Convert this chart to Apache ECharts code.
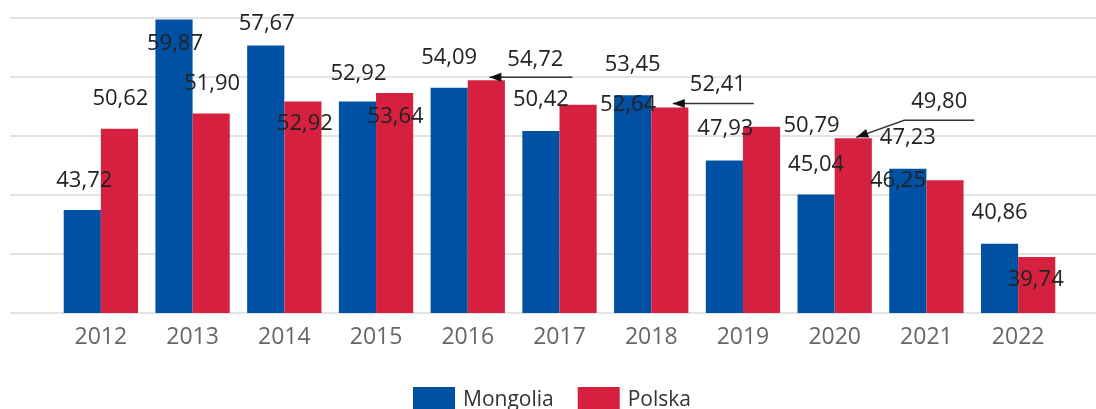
<!DOCTYPE html>
<html>
<head>
<meta charset="utf-8">
<script src="https://cdn.jsdelivr.net/npm/echarts@6/dist/echarts.min.js"></script>
<style>
  html, body { margin: 0; padding: 0; background: #fff; }
  #main { width: 1096px; height: 409px; }
</style>
</head>
<body>
<div id="main"></div>
<script>
const years = ['2012', '2013', '2014', '2015', '2016', '2017', '2018', '2019', '2020', '2021', '2022']
const mongolia = [43.72, 59.87, 57.67, 52.92, 54.09, 50.42, 53.45, 47.93, 45.04, 47.23, 40.86]
const polska = [50.62, 51.90, 52.92, 53.64, 54.72, 52.64, 52.41, 50.79, 49.80, 46.25, 39.74]

// przesunięcia etykiet [dx, dy] - jak w oryginale (etykiety nachodzą na siebie)
const mongoliaLabelOffset = [[2, -18], [1, 35], [1, -11], [1, -17], [0, -19], [0, -20], [0, -20], [1, -21], [0, -19], [0, -20], [0, -20]]
const polskaLabelOffset = [[1, -19], [1, -19], [2, 33], [1, 35], [49, -10], [50, 11], [48, -12], [50, 10], [86, -26], [-47, 11], [-1, 34]]

// linie odniesienia dla przesuniętych etykiet (Polska), px względem środka słupka i jego wierzchołka
const leaders = [
  { i: 4, tip: [3, -3], knee: [3, -3], end: [86, -3] },
  { i: 6, tip: [3, -4], knee: [3, -4], end: [84, -4] },
  { i: 8, tip: [3, -1], knee: [51, -18], end: [121, -18] },
]

const catGap = 0.19
const fmt = v => v.toFixed(2).replace('.', ',')

let chart = echarts.init(document.getElementById('main'))
chart.setOption({
  backgroundColor: '#fff',
  animation: false,
  textStyle: { fontFamily: 'Open Sans' },
  grid: [
    // siatka na całą szerokość
    { left: 10, right: 0, top: 18, bottom: 96, outerBoundsMode: 'none' },
    // słupki
    { left: 55, right: 32, top: 18, bottom: 96, outerBoundsMode: 'none' },
  ],
  legend: {
    data: ['Mongolia', 'Polska'],
    left: 413,
    top: 387,
    padding: 0,
    icon: 'rect',
    itemWidth: 42,
    itemHeight: 26,
    itemGap: 24,
    textStyle: { fontSize: 21, color: '#333', fontFamily: 'Open Sans', padding: [0, 0, 0, 3] },
  },
  xAxis: [
    { type: 'value', gridIndex: 0, show: false, min: 0, max: 1 },
    {
      type: 'category',
      gridIndex: 1,
      data: years,
      axisLine: { show: false },
      axisTick: { show: false },
      axisLabel: { fontSize: 23, color: '#666', margin: 13, fontFamily: 'Open Sans' },
    },
  ],
  yAxis: [
    {
      type: 'value', gridIndex: 0, min: 35, max: 60, interval: 5,
      axisLabel: { show: false }, axisLine: { show: false }, axisTick: { show: false },
      splitLine: { show: true, lineStyle: { color: '#e3e3e3', width: 2 } },
    },
    {
      type: 'value', gridIndex: 1, min: 35, max: 60, interval: 5,
      axisLabel: { show: false }, axisLine: { show: false }, axisTick: { show: false },
      splitLine: { show: false },
    },
  ],
  series: [
    {
      name: 'Mongolia',
      type: 'bar',
      xAxisIndex: 1,
      yAxisIndex: 1,
      barGap: '0%',
      barCategoryGap: (catGap * 100) + '%',
      itemStyle: { color: '#0051A3' },
      label: {
        show: true, position: 'top', distance: 0,
        fontSize: 22, color: '#222', fontFamily: 'Open Sans',
        formatter: p => fmt(p.value),
      },
      data: mongolia.map((v, i) => ({ value: v, label: { offset: mongoliaLabelOffset[i] } })),
    },
    {
      name: 'Polska',
      type: 'bar',
      xAxisIndex: 1,
      yAxisIndex: 1,
      barGap: '0%',
      barCategoryGap: (catGap * 100) + '%',
      itemStyle: { color: '#D5213F' },
      label: {
        show: true, position: 'top', distance: 0,
        fontSize: 22, color: '#222', fontFamily: 'Open Sans',
        formatter: p => fmt(p.value),
      },
      data: polska.map((v, i) => ({ value: v, label: { offset: polskaLabelOffset[i] } })),
    },
    {
      type: 'custom',
      xAxisIndex: 1,
      yAxisIndex: 1,
      silent: true,
      z: 10,
      data: leaders.map(l => [l.i, polska[l.i]]),
      renderItem: function (params, api) {
        let l = leaders[params.dataIndex]
        let p = api.coord([api.value(0), api.value(1)])
        let cw = api.size([1, 0])[0]
        let bw = cw * (1 - catGap) / 2
        let cx = p[0] + bw / 2
        let top = p[1]
        let tip = [cx + l.tip[0], top + l.tip[1]]
        let knee = [cx + l.knee[0], top + l.knee[1]]
        let end = [cx + l.end[0], top + l.end[1]]
        let ref = (knee[0] === tip[0] && knee[1] === tip[1]) ? end : knee
        let dx = ref[0] - tip[0], dy = ref[1] - tip[1]
        let d = Math.sqrt(dx * dx + dy * dy)
        let ux = dx / d, uy = dy / d
        let len = 12, w = 4.5
        let arrow = [
          tip,
          [tip[0] + ux * len - uy * w, tip[1] + uy * len + ux * w],
          [tip[0] + ux * len + uy * w, tip[1] + uy * len - ux * w],
        ]
        return {
          type: 'group',
          children: [
            { type: 'polyline', shape: { points: [tip, knee, end] }, style: { stroke: '#333', lineWidth: 1.5, fill: null } },
            { type: 'polygon', shape: { points: arrow }, style: { fill: '#111' } },
          ],
        }
      },
    },
  ],
})
</script>
</body>
</html>
